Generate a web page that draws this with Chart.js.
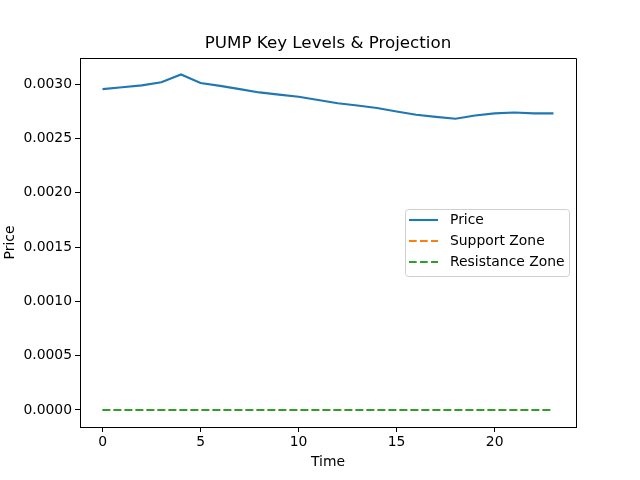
<!DOCTYPE html>
<html>
<head>
<meta charset="utf-8">
<script src="https://cdn.jsdelivr.net/npm/chart.js@4/dist/chart.umd.min.js"></script>
<style>
  html, body { margin: 0; padding: 0; background: #fff; }
  #wrap { width: 640px; height: 480px; }
</style>
</head>
<body>
<div id="wrap"><canvas id="grafica" width="640" height="480"></canvas></div>
<script>
// Datos
const tiempo = [0, 1, 2, 3, 4, 5, 6, 7, 8, 9, 10, 11, 12, 13, 14, 15, 16, 17, 18, 19, 20, 21, 22, 23];
const precio = [0.002955, 0.002972, 0.002990, 0.003018, 0.003090, 0.003012, 0.002985, 0.002955, 0.002925,
                0.002905, 0.002885, 0.002855, 0.002825, 0.002805, 0.002782, 0.002750, 0.002720, 0.002700,
                0.002682, 0.002712, 0.002732, 0.002740, 0.002732, 0.002732];
const soporte = [0, 0, 0, 0, 0, 0, 0, 0, 0, 0, 0, 0, 0, 0, 0, 0, 0, 0, 0, 0, 0, 0, 0, 0];
const resistencia = [0, 0, 0, 0, 0, 0, 0, 0, 0, 0, 0, 0, 0, 0, 0, 0, 0, 0, 0, 0, 0, 0, 0, 0];
const ticksX = [0, 5, 10, 15, 20];
const ticksY = [0, 0.0005, 0.0010, 0.0015, 0.0020, 0.0025, 0.0030];

const FUENTE = 'DejaVu Sans, sans-serif';

function puntos(valores) {
    return tiempo.map((t, i) => ({ x: t, y: valores[i] }));
}

// Título, marco, etiquetas de ejes y leyenda al estilo matplotlib
const decoracion = {
    id: 'decoracion',
    afterDraw(chart) {
        const ctx = chart.ctx;
        const a = chart.chartArea;
        ctx.save();
        // marco superior y derecho
        ctx.strokeStyle = '#000';
        ctx.lineWidth = 1;
        ctx.beginPath();
        ctx.moveTo(a.left, a.top + 0.5);
        ctx.lineTo(a.right + 0.5, a.top + 0.5);
        ctx.lineTo(a.right + 0.5, a.bottom);
        ctx.stroke();

        ctx.fillStyle = '#000';
        ctx.textAlign = 'center';
        ctx.textBaseline = 'middle';
        ctx.font = '16.7px ' + FUENTE;
        ctx.fillText('PUMP Key Levels & Projection', (a.left + a.right) / 2, 44);

        ctx.font = '13.9px ' + FUENTE;
        ctx.fillText('Time', (a.left + a.right) / 2, 462);
        ctx.save();
        ctx.translate(10, (a.top + a.bottom) / 2);
        ctx.rotate(-Math.PI / 2);
        ctx.fillText('Price', 0, 0);
        ctx.restore();

        // leyenda
        const bx = 405, by = 209, bw = 164, bh = 67;
        ctx.fillStyle = 'rgba(255,255,255,0.8)';
        ctx.strokeStyle = '#d0d0d0';
        ctx.beginPath();
        ctx.roundRect(bx + 0.5, by + 0.5, bw, bh, 3);
        ctx.fill();
        ctx.stroke();
        ctx.textAlign = 'left';
        chart.data.datasets.forEach((ds, i) => {
            const y = 220 + i * 21;
            ctx.strokeStyle = ds.borderColor;
            ctx.lineWidth = ds.borderWidth;
            ctx.setLineDash(ds.borderDash || []);
            ctx.beginPath();
            ctx.moveTo(409, y);
            ctx.lineTo(438, y);
            ctx.stroke();
            ctx.setLineDash([]);
            ctx.fillStyle = '#000';
            ctx.fillText(ds.label, 450, y);
        });
        ctx.restore();
    }
};

function inicializarGrafica() {
    const ctx = document.getElementById('grafica');
    new Chart(ctx.getContext('2d'), {
        type: 'line',
        data: {
            datasets: [{
                    label: 'Price',
                    data: puntos(precio),
                    borderColor: '#1f77b4',
                    borderWidth: 2.1,
                    pointRadius: 0,
                    tension: 0,
                    order: 0
                },
                {
                    label: 'Support Zone',
                    data: puntos(soporte),
                    borderColor: '#ff7f0e',
                    borderWidth: 2.1,
                    borderDash: [7.7, 3.3],
                    pointRadius: 0,
                    tension: 0,
                    order: 2
                },
                {
                    label: 'Resistance Zone',
                    data: puntos(resistencia),
                    borderColor: '#2ca02c',
                    borderWidth: 2.1,
                    borderDash: [7.7, 3.3],
                    pointRadius: 0,
                    tension: 0,
                    order: 1
                }
            ]
        },
        options: {
            responsive: false,
            animation: false,
            layout: { padding: { top: 58, right: 64, left: 0, bottom: 0 } },
            plugins: {
                legend: { display: false },
                title: { display: false },
                tooltip: { enabled: false }
            },
            scales: {
                x: {
                    type: 'linear',
                    min: -1.15,
                    max: 24.15,
                    afterBuildTicks: s => { s.ticks = ticksX.map(v => ({ value: v })); },
                    afterFit: s => { s.height = 53; },
                    grid: { display: true, drawOnChartArea: false, drawTicks: true, tickLength: 5, color: '#000' },
                    border: { display: true, color: '#000', width: 1 },
                    ticks: { color: '#000', font: { family: FUENTE, size: 13.9 }, padding: 2, maxRotation: 0 }
                },
                y: {
                    min: -0.000157,
                    max: 0.003242,
                    afterBuildTicks: s => { s.ticks = ticksY.map(v => ({ value: v })); },
                    afterFit: s => { s.width = 80; },
                    grid: { display: true, drawOnChartArea: false, drawTicks: true, tickLength: 5, color: '#000' },
                    border: { display: true, color: '#000', width: 1 },
                    ticks: {
                        color: '#000',
                        font: { family: FUENTE, size: 13.9 },
                        padding: 3,
                        callback: v => v.toFixed(4)
                    }
                }
            }
        },
        plugins: [decoracion]
    });
}

document.addEventListener('DOMContentLoaded', inicializarGrafica);
</script>
</body>
</html>
